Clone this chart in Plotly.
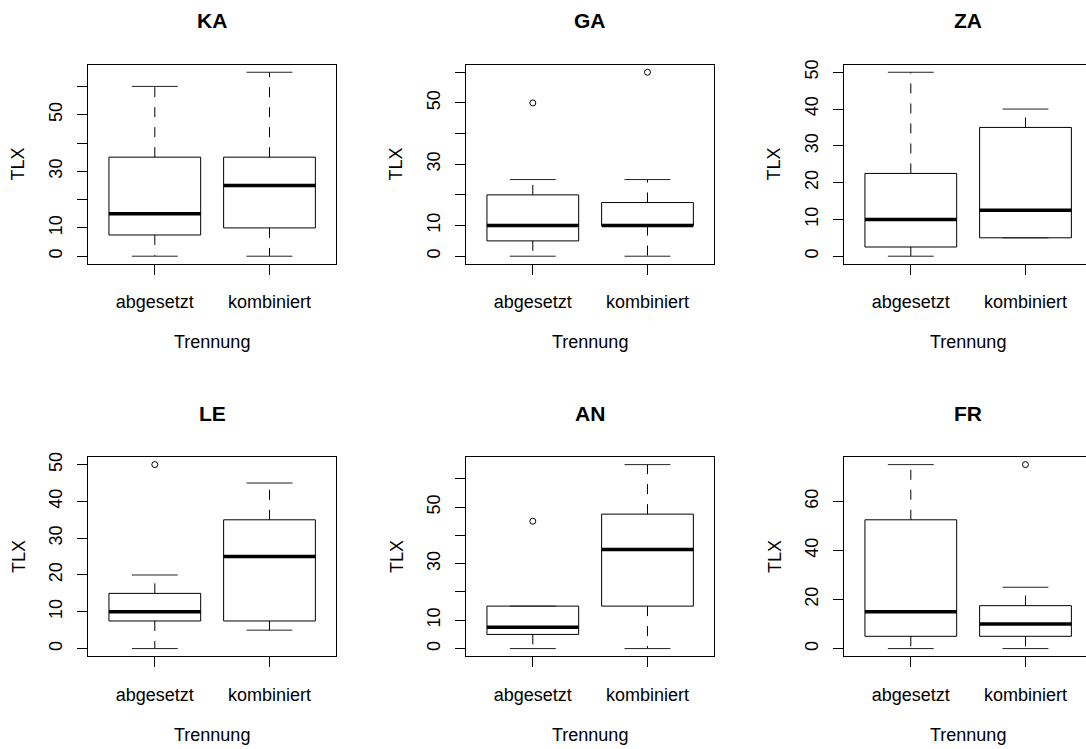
import plotly.graph_objects as go

# ---------------- data ----------------
panels = ["KA", "GA", "ZA", "LE", "AN", "FR"]
categories = ["abgesetzt", "kombiniert"]

q1_vals = [[7.5, 10], [5, 10], [2.5, 5], [7.5, 7.5], [5, 15], [5, 5]]
median_vals = [[15, 25], [10, 10], [10, 12.5], [10, 25], [7.5, 35], [15, 10]]
q3_vals = [[35, 35], [20, 17.5], [22.5, 35], [15, 35], [15, 47.5], [52.5, 17.5]]
lower_whisker = [[0, 0], [0, 0], [0, 5], [0, 5], [0, 0], [0, 0]]
upper_whisker = [[60, 65], [25, 25], [50, 40], [20, 45], [15, 65], [75, 25]]
outliers = [[[], []], [[50], [60]], [[], []], [[50], []], [[45], []], [[], [75]]]

ytick_vals = [
    [0, 10, 20, 30, 40, 50, 60],
    [0, 10, 20, 30, 40, 50, 60],
    [0, 10, 20, 30, 40, 50],
    [0, 10, 20, 30, 40, 50],
    [0, 10, 20, 30, 40, 50, 60],
    [0, 20, 40, 60],
]
ytick_text = [
    ["0", "10", "", "30", "", "50", ""],
    ["0", "10", "", "30", "", "50", ""],
    ["0", "10", "20", "30", "40", "50"],
    ["0", "10", "20", "30", "40", "50"],
    ["0", "10", "", "30", "", "50", ""],
    ["0", "20", "40", "60"],
]
y_title = "TLX"
x_title = "Trennung"

# ---------------- layout geometry ----------------
W, H = 1086, 749
col_left = [88.3, 466.3, 844.3]
row_top = [60.3, 455.3]
PW, PH = 247.7, 200.0
positions = [1, 2]
XR = (0.42, 2.58)
FONT = "Liberation Sans, Arial, Helvetica, sans-serif"
FS = 18
BOXW = 0.8

fig = go.Figure()
annotations = []

for i, name in enumerate(panels):
    r, c = divmod(i, 3)
    ax = "" if i == 0 else str(i + 1)
    xa, ya = "x" + ax, "y" + ax
    l = col_left[c]
    rgt = min(l + PW, W)
    xr_end = XR[0] + (XR[1] - XR[0]) * (rgt - l) / PW
    top = row_top[r]
    bot = top + PH

    pts = sum(outliers[i], [])
    lo = min(lower_whisker[i] + pts)
    hi = max(upper_whisker[i] + pts)
    pad = (hi - lo) * 0.04

    # boxes (outline only, whiskers drawn separately as dashed lines)
    fig.add_trace(go.Box(
        x=positions, q1=q1_vals[i], median=median_vals[i], q3=q3_vals[i],
        lowerfence=q1_vals[i], upperfence=q3_vals[i],
        width=BOXW, whiskerwidth=0, boxpoints=False,
        fillcolor="white", line=dict(color="black", width=1),
        xaxis=xa, yaxis=ya, showlegend=False, hoverinfo="skip"))

    for j, p in enumerate(positions):
        # dashed whiskers
        fig.add_trace(go.Scatter(
            x=[p, p, None, p, p],
            y=[q3_vals[i][j], upper_whisker[i][j], None, q1_vals[i][j], lower_whisker[i][j]],
            mode="lines", line=dict(color="black", width=1, dash="10px,10px"),
            xaxis=xa, yaxis=ya, showlegend=False, hoverinfo="skip"))
        # caps
        fig.add_trace(go.Scatter(
            x=[p - BOXW / 4, p + BOXW / 4, None, p - BOXW / 4, p + BOXW / 4],
            y=[upper_whisker[i][j], upper_whisker[i][j], None, lower_whisker[i][j], lower_whisker[i][j]],
            mode="lines", line=dict(color="#222222", width=1),
            xaxis=xa, yaxis=ya, showlegend=False, hoverinfo="skip"))
        # thick median
        fig.add_trace(go.Scatter(
            x=[p - BOXW / 2, p + BOXW / 2],
            y=[median_vals[i][j], median_vals[i][j]],
            mode="lines", line=dict(color="black", width=3.5),
            xaxis=xa, yaxis=ya, showlegend=False, hoverinfo="skip"))
        # outliers
        if outliers[i][j]:
            fig.add_trace(go.Scatter(
                x=[p] * len(outliers[i][j]), y=outliers[i][j], mode="markers",
                marker=dict(symbol="circle-open", size=6, color="black", line=dict(width=1)),
                xaxis=xa, yaxis=ya, showlegend=False, hoverinfo="skip"))

    fig.layout["xaxis" + ax] = dict(
        domain=[l / W, rgt / W], range=[XR[0], xr_end], anchor=ya,
        tickvals=positions, ticktext=categories, ticks="outside", ticklen=10,
        tickcolor="black", tickwidth=1, showline=True, linecolor="black", linewidth=1,
        mirror=True, showgrid=False, zeroline=False, ticklabelstandoff=12,
        tickfont=dict(family=FONT, size=FS, color="black"), fixedrange=True)
    fig.layout["yaxis" + ax] = dict(
        domain=[1 - bot / H, 1 - top / H], range=[lo - pad, hi + pad], anchor=xa,
        tickvals=ytick_vals[i], ticktext=ytick_text[i], ticks="outside", ticklen=10,
        tickcolor="black", tickwidth=1, tickangle=-90, showline=True,
        linecolor="black", linewidth=1, mirror=(c < 2), showgrid=False, zeroline=False,
        ticklabelstandoff=8,
        tickfont=dict(family=FONT, size=FS, color="black"), fixedrange=True)

    cx = (l + l + PW) / 2
    annotations.append(dict(
        text="<b>%s</b>" % name, x=cx / W, y=1 - (top - 44.5) / H, xref="paper", yref="paper",
        showarrow=False, xanchor="center", yanchor="middle",
        font=dict(family=FONT, size=21, color="black")))
    annotations.append(dict(
        text=x_title, x=cx / W, y=1 - (top + 279.4) / H, xref="paper", yref="paper",
        showarrow=False, xanchor="center", yanchor="middle",
        font=dict(family=FONT, size=FS, color="black")))
    annotations.append(dict(
        text=y_title, x=(l - 70) / W, y=1 - (top + PH / 2) / H, xref="paper", yref="paper",
        showarrow=False, xanchor="center", yanchor="middle", textangle=-90,
        font=dict(family=FONT, size=FS, color="black")))

fig.update_layout(
    width=W, height=H, autosize=False,
    margin=dict(l=0, r=0, t=0, b=0),
    paper_bgcolor="white", plot_bgcolor="white",
    annotations=annotations,
)

fig.write_html(
    "out.html",
    config={"displayModeBar": False},
    post_script="document.body.style.margin='0';document.body.style.padding='0';",
)
